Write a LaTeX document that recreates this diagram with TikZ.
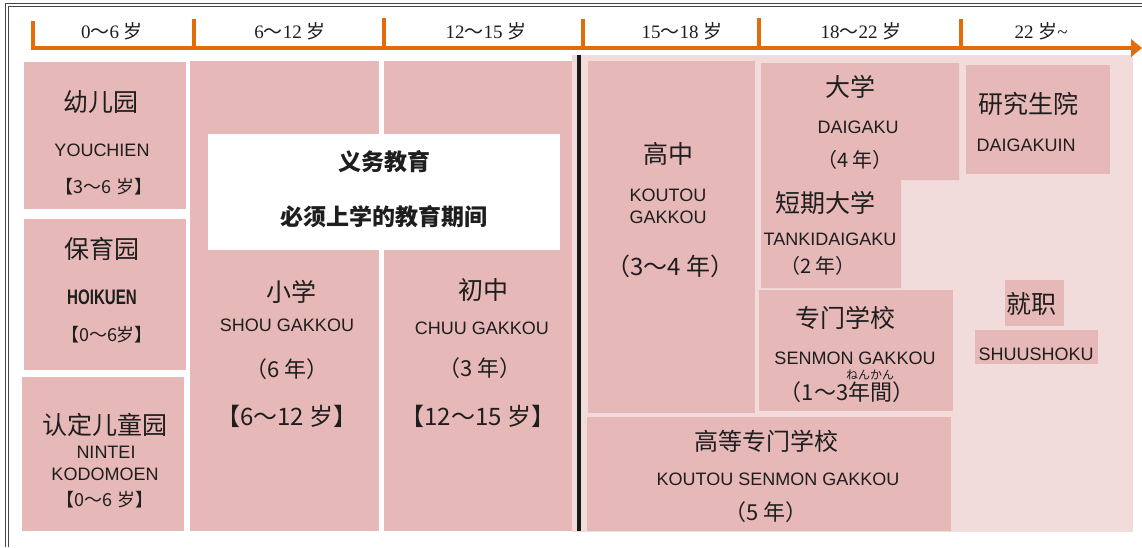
\documentclass[tikz,border=0pt]{standalone}
\usepackage{fontspec}
\setmainfont{Liberation Sans}
\newfontfamily\cjk{Noto Sans CJK SC}
\newfontfamily\cjkjp{Noto Sans CJK JP}
\newfontfamily\serifL{Liberation Serif}
\definecolor{boxpink}{RGB}{230,184,183}
\definecolor{bgpink}{RGB}{242,220,219}
\definecolor{axisorange}{RGB}{227,108,10}
\definecolor{txt}{RGB}{30,30,30}
\definecolor{framegray}{RGB}{70,70,70}
\tikzset{
  lbl/.style={inner sep=0pt, outer sep=0pt, anchor=center, text=txt},
  title/.style={lbl, font=\cjk\fontsize{25}{25}\selectfont},
  rom/.style={lbl, font=\fontsize{18}{18}\selectfont},
  yrs/.style={lbl, font=\cjk\fontsize{22}{22}\selectfont},
  yrsm/.style={lbl, font=\cjk\fontsize{20}{20}\selectfont},
  agesm/.style={lbl, font=\cjk\fontsize{18}{18}\selectfont},
  agebig/.style={lbl, font=\cjk\fontsize{24}{24}\selectfont},
  hdr/.style={lbl, font=\serifL\fontsize{19}{19}\selectfont},
  duty/.style={lbl, font=\cjk\bfseries\fontsize{23}{23}\selectfont},
  boxfill/.style={fill=boxpink},
  tick/.style={draw=axisorange, line width=4pt},
}
\begin{document}
\begin{tikzpicture}[x=1pt,y=-1pt]
\useasboundingbox (0,0) rectangle (1142,547);
\fill[white] (0,0) rectangle (1142,547);
% frame (double line)
\draw[framegray, line width=1pt] (1142,3) -- (5,3) -- (5,547);
\draw[framegray, line width=1pt] (1142,6.5) -- (8.5,6.5) -- (8.5,547);
% light background of upper-secondary and beyond
\fill[bgpink] (572,55) rectangle (1133,532);
% boxes
\fill[boxfill] (24,62) rectangle (186,209);
\fill[boxfill] (24,219) rectangle (186,370);
\fill[boxfill] (22,377) rectangle (184,531);
\fill[boxfill] (190,61) rectangle (379,531);
\fill[boxfill] (384,61) rectangle (572,531);
\fill[boxfill] (588,61) rectangle (755,413);
\fill[boxfill] (761,63) -- (959,63) -- (959,180) -- (901,180) -- (901,288) -- (761,288) -- cycle;
\fill[boxfill] (966,65) rectangle (1110,174);
\fill[boxfill] (759,290) rectangle (953,411);
\fill[boxfill] (587,417) rectangle (951,531);
\fill[boxfill] (1005,280) rectangle (1064,326);
\fill[boxfill] (975,330) rectangle (1098,364);
% compulsory education label box
\fill[white] (208,134) rectangle (560,250);
% divider
\draw[black!90, line width=4pt] (579,55) -- (579,531);
% time axis
\coordinate (axL) at (33,48);
\coordinate (axR) at (1132,48);
\draw[axisorange, line width=4pt] (axL) -- (axR);
\fill[axisorange] (1131,39) -- (1142,48) -- (1131,57) -- cycle;
\foreach \x/\t in {33/21,194/19,384/18,583/19,759/18,961/19}{
  \draw[tick] (\x,50) -- (\x,\t);
}
% header labels
\node[hdr] (h1) at (112,31) {0{\cjk ～}6 {\cjk 岁}};
\node[hdr] (h2) at (290,31) {6{\cjk ～}12 {\cjk 岁}};
\node[hdr] (h3) at (486,31) {12{\cjk ～}15 {\cjk 岁}};
\node[hdr] (h4) at (682,31) {15{\cjk ～}18 {\cjk 岁}};
\node[hdr] (h5) at (861,31) {18{\cjk ～}22 {\cjk 岁}};
\node[hdr] (h6) at (1041,31) {22 {\cjk 岁}\textasciitilde};
% kindergarten
\node[title] (yj) at (101,102) {幼儿园};
\node[rom] (yjr) at (102,150) {YOUCHIEN};
\node[agesm] (yja) at (104,187) {【3～6 岁】};
% nursery
\node[title] (by) at (102,249) {保育园};
\node[lbl, font=\bfseries\fontsize{21}{21}\selectfont] (byr) at (102,297) {\scalebox{0.72}[1]{HOIKUEN}};
\node[agesm] (bya) at (107,335) {【0～6岁】};
% certified
\node[title] (rd) at (105,425) {认定儿童园};
\node[rom] (rdr1) at (106,452) {NINTEI};
\node[rom] (rdr2) at (105,474) {KODOMOEN};
\node[agesm] (rda) at (105,500) {【0～6 岁】};
% compulsory
\node[duty] (yw1) at (384,162) {义务教育};
\node[duty] (yw2) at (384,217) {必须上学的教育期间};
% elementary
\node[title] (xx) at (291,292) {小学};
\node[rom] (xxr) at (287,325) {SHOU GAKKOU};
\node[yrs] (xxy) at (287,369) {（6 年）};
\node[agebig] (xxa) at (287,416) {【6～12 岁】};
% junior high
\node[title] (cz) at (483,290) {初中};
\node[rom] (czr) at (482,328) {CHUU GAKKOU};
\node[yrs] (czy) at (480,368) {（3 年）};
\node[agebig] (cza) at (478,416) {【12～15 岁】};
% senior high
\node[title] (gz) at (668,154) {高中};
\node[rom] (gzr1) at (668,195) {KOUTOU};
\node[rom] (gzr2) at (668,217) {GAKKOU};
\node[yrs, font=\cjk\fontsize{24}{24}\selectfont] (gzy) at (670,266) {（3～4 年）};
% university
\node[title] (dx) at (850,87) {大学};
\node[rom] (dxr) at (858,127) {DAIGAKU};
\node[yrsm] (dxy) at (855,160) {（4 年）};
% junior college
\node[title] (dq) at (825,203) {短期大学};
\node[rom] (dqr) at (830,239) {TANKIDAIGAKU};
\node[yrsm] (dqy) at (818,266) {（2 年）};
% graduate school
\node[title] (yjs) at (1028,104) {研究生院};
\node[rom] (yjsr) at (1026,145) {DAIGAKUIN};
% vocational school
\node[title] (zm) at (845,318) {专门学校};
\node[rom] (zmr) at (855,358) {SENMON GAKKOU};
\node[yrs] (zmy) at (847,392) {（1～3年間）};
\node[lbl, font=\cjkjp\fontsize{12}{12}\selectfont] (zmruby) at (870,375) {ねんかん};
% college of technology
\node[title, font=\cjk\fontsize{24}{24}\selectfont] (gd) at (766,441) {高等专门学校};
\node[rom] (gdr) at (778,479) {KOUTOU SENMON GAKKOU};
\node[yrs] (gdy) at (766,512) {（5 年）};
% employment
\node[title] (jz) at (1031,304) {就职};
\node[rom] (jzr) at (1036,354) {SHUUSHOKU};
\end{tikzpicture}
\end{document}
